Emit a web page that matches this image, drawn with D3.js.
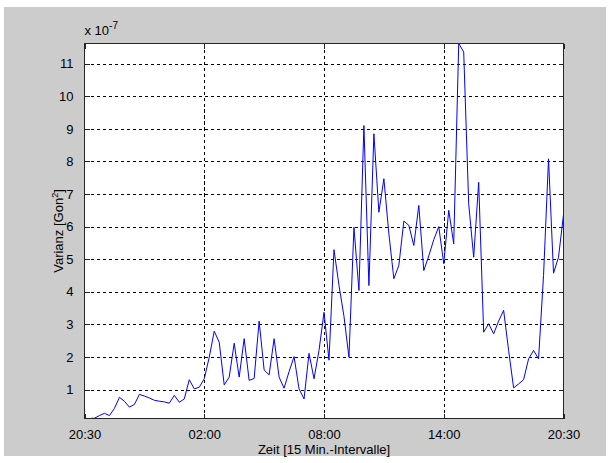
<!DOCTYPE html>
<html>
<head>
<meta charset="utf-8">
<script src="https://cdn.jsdelivr.net/npm/d3@7"></script>
<style>
  html, body { margin: 0; padding: 0; background: #ffffff; }
  svg { display: block; }
  text { font-family: "Liberation Sans", Arial, sans-serif; }
</style>
</head>
<body>
<script>
// ---- data (variance in units of 1e-7 Gon^2, one value per 15-min interval) ----
const values = [
  0.11, 0.11, 0.12, 0.20, 0.27, 0.20, 0.42, 0.76, 0.64, 0.46,
  0.54, 0.85, 0.80, 0.74, 0.67, 0.64, 0.62, 0.58, 0.82, 0.61,
  0.71, 1.30, 1.02, 1.07, 1.33, 1.99, 2.79, 2.45, 1.14, 1.38,
  2.42, 1.38, 2.56, 1.28, 1.34, 3.10, 1.60, 1.45, 2.56, 1.38,
  1.04, 1.55, 2.01, 1.02, 0.71, 2.11, 1.33, 2.20, 3.37, 1.90,
  5.29, 4.20, 3.25, 1.99, 5.98, 4.04, 9.10, 4.19, 8.85, 6.44,
  7.47, 5.78, 4.40, 4.81, 6.17, 6.04, 5.42, 6.65, 4.65, 5.10,
  5.60, 6.00, 4.86, 6.50, 5.47, 11.62, 11.36, 6.70, 5.06, 7.36,
  2.76, 3.02, 2.71, 3.10, 3.43, 2.20, 1.05, 1.17, 1.30, 1.94,
  2.20, 1.94, 4.50, 8.08, 4.57, 5.06, 6.37
];
const xTickIdx = [0, 24, 48, 72, 96];
const xTickLabels = ["20:30", "02:00", "08:00", "14:00", "20:30"];
const yTicks = [1, 2, 3, 4, 5, 6, 7, 8, 9, 10, 11];
const xLabel = "Zeit [15 Min.-Intervalle]";
const yLabelMain = "Varianz [Gon";
const yLabelSup = "2";
const yLabelEnd = "]";
const exponentText = "-7";

// ---- layout ----
const W = 613, H = 463;
const L = 84.5, R = 563.5, T = 43.5, B = 418.5;

const svg = d3.select("body").append("svg").attr("width", W).attr("height", H);

// figure background
svg.append("rect").attr("x", 4).attr("y", 7).attr("width", 602).attr("height", 449)
  .attr("fill", "#cccccc");

const yMin = d3.min(values), yMax = d3.max(values);
const x = d3.scaleLinear().domain([0, values.length - 1]).range([L, R]);
const y = d3.scaleLinear().domain([yMin, yMax]).range([B, T]);

// plot area
svg.append("rect").attr("x", L).attr("y", T).attr("width", R - L).attr("height", B - T)
  .attr("fill", "#ffffff");

// grid
const grid = svg.append("g").attr("stroke", "#000").attr("stroke-width", 1)
  .attr("stroke-dasharray", "3.3,2.7").attr("shape-rendering", "crispEdges");
grid.selectAll("line.h").data(yTicks).join("line").attr("class", "h")
  .attr("x1", L).attr("x2", R)
  .attr("y1", d => Math.round(y(d)) + 0.5).attr("y2", d => Math.round(y(d)) + 0.5);
grid.selectAll("line.v").data(xTickIdx.slice(1, -1)).join("line").attr("class", "v")
  .attr("y1", T).attr("y2", B)
  .attr("x1", d => Math.round(x(d)) + 0.5).attr("x2", d => Math.round(x(d)) + 0.5);

// data line
svg.append("path").datum(values)
  .attr("fill", "none").attr("stroke", "#0000ff").attr("stroke-width", 1)
  .attr("d", d3.line().x((d, i) => x(i)).y(d => y(d)));

// axes with inward ticks
const fmtX = (d, i) => xTickLabels[xTickIdx.indexOf(d)];
const axB = d3.axisBottom(x).tickValues(xTickIdx).tickSize(-5).tickPadding(11).tickFormat(fmtX);
const axT = d3.axisTop(x).tickValues(xTickIdx).tickSize(-5).tickFormat("");
const axLf = d3.axisLeft(y).tickValues(yTicks).tickSize(-5).tickPadding(11).tickFormat(d3.format("d"));
const axRt = d3.axisRight(y).tickValues(yTicks).tickSize(-5).tickFormat("");

function style(g) {
  g.select(".domain").remove();
  g.selectAll(".tick line").attr("stroke", "#222").attr("shape-rendering", "crispEdges");
  g.selectAll(".tick text").attr("fill", "#000").style("font-size", "13px")
    .style("font-family", "'Liberation Sans', Arial, sans-serif");
}
svg.append("g").attr("transform", `translate(0,${B})`).call(axB).call(style);
svg.append("g").attr("transform", `translate(0,${T})`).call(axT).call(style);
svg.append("g").attr("transform", `translate(${L},0)`).call(axLf).call(style);
svg.append("g").attr("transform", `translate(${R},0)`).call(axRt).call(style);

// box
svg.append("rect").attr("x", L).attr("y", T).attr("width", R - L).attr("height", B - T)
  .attr("fill", "none").attr("stroke", "#262626").attr("stroke-width", 1)
  .attr("shape-rendering", "crispEdges");

// exponent label
const ex = svg.append("text").attr("x", L).attr("y", 35).attr("font-size", 13).attr("fill", "#000");
ex.append("tspan").text("x 10");
ex.append("tspan").attr("dy", -6).attr("font-size", 10).text(exponentText);

// x label
svg.append("text").attr("x", (L + R) / 2).attr("y", 454).attr("text-anchor", "middle")
  .attr("font-size", 13).attr("fill", "#000").text(xLabel);

// y label
const yl = svg.append("text").attr("transform", `translate(63,${(T + B) / 2}) rotate(-90)`)
  .attr("text-anchor", "middle").attr("font-size", 13).attr("fill", "#000");
yl.append("tspan").text(yLabelMain);
yl.append("tspan").attr("dy", -5).attr("font-size", 9).text(yLabelSup);
yl.append("tspan").attr("dy", 5).text(yLabelEnd);
</script>
</body>
</html>
